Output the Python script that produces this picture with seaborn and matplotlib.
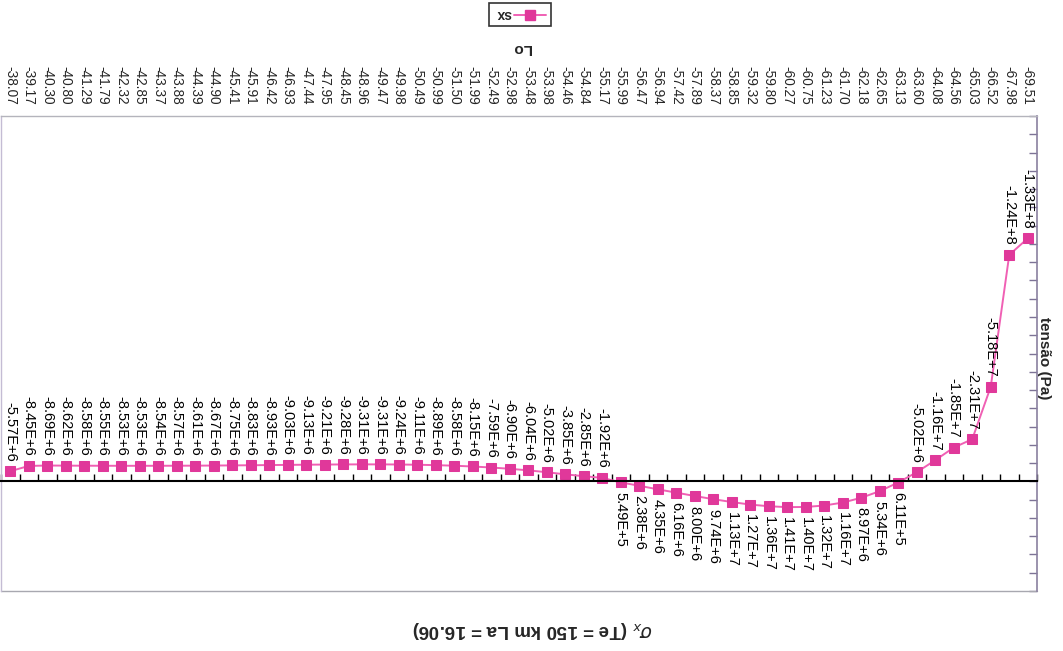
import matplotlib
matplotlib.use("Agg")
import matplotlib.pyplot as plt
from matplotlib.lines import Line2D
from matplotlib.patches import Rectangle
from matplotlib.ticker import MultipleLocator, FixedLocator, NullFormatter
import numpy as np
import pandas as pd
import seaborn as sns

# Longitude of each profile point (categorical x axis)
lon = [-69.51, -67.98, -66.52, -65.03, -64.56, -64.08, -63.60, -63.13, -62.65, -62.18,
       -61.70, -61.23, -60.75, -60.27, -59.80, -59.32, -58.85, -58.37, -57.89, -57.42,
       -56.94, -56.47, -55.99, -55.17, -54.84, -54.46, -53.98, -53.48, -52.98, -52.49,
       -51.99, -51.50, -50.99, -50.49, -49.98, -49.47, -48.96, -48.45, -47.95, -47.44,
       -46.93, -46.42, -45.91, -45.41, -44.90, -44.39, -43.88, -43.37, -42.85, -42.32,
       -41.79, -41.29, -40.80, -40.30, -39.17, -38.07]

# Horizontal stress sigma_x (Pa) at each longitude
sx = [-1.33e8, -1.24e8, -5.18e7, -2.31e7, -1.85e7, -1.16e7, -5.02e6, 6.11e5, 5.34e6, 8.97e6,
      1.16e7, 1.32e7, 1.40e7, 1.41e7, 1.36e7, 1.27e7, 1.13e7, 9.74e6, 8.00e6, 6.16e6,
      4.35e6, 2.38e6, 5.49e5, -1.92e6, -2.85e6, -3.85e6, -5.02e6, -6.04e6, -6.90e6, -7.59e6,
      -8.15e6, -8.58e6, -8.89e6, -9.11e6, -9.24e6, -9.31e6, -9.31e6, -9.28e6, -9.21e6, -9.13e6,
      -9.03e6, -8.93e6, -8.83e6, -8.75e6, -8.67e6, -8.61e6, -8.57e6, -8.54e6, -8.53e6, -8.53e6,
      -8.55e6, -8.58e6, -8.62e6, -8.69e6, -8.45e6, -5.57e6]

series_name = "sx"
title = r"$\sigma_x$ (Te = 150 km La = 16.06)"
x_label = "Lo"
y_label = "tensão (Pa)"

sns.set_style("white")
plt.rcParams["font.family"] = ["Liberation Sans", "DejaVu Sans"]

MARKER = "#E0389A"
LINE = "#F060B4"

df = pd.DataFrame({"pos": np.arange(len(lon)), "sx": sx})

W, H = 1063, 651
fig = plt.figure(figsize=(W / 100, H / 100), dpi=100)
ax = fig.add_axes([1 / W, (H - 591) / H, 1036 / W, 475 / H])

sns.lineplot(data=df, x="pos", y="sx", ax=ax, color=LINE, linewidth=1.4,
             marker="s", markersize=7, markerfacecolor=MARKER,
             markeredgecolor=MARKER, legend=False)

# Whole chart is shown turned upside down: both axes inverted, text rotated
ax.set_xlim(len(lon) - 0.5, -0.5)
ax.set_ylim(6e7, -2e8)


def fmt(v):
    m, e = f"{v:.2E}".split("E")
    return f"{m}E{int(e):+d}"


for i, v in enumerate(sx):
    up = v < 0
    ax.annotate(fmt(v), (i, v), xytext=(0, 7 if up else -7), textcoords="offset points",
                rotation=-90, ha="center", va="bottom" if up else "top",
                fontsize=10.5, color="black")

# x axis: category labels along the top, boundary ticks on the zero line
ax.spines["bottom"].set_position(("data", 0))
ax.spines["bottom"].set_color("black")
ax.spines["bottom"].set_linewidth(1.5)
ax.xaxis.set_major_locator(FixedLocator(np.arange(len(lon))))
ax.xaxis.set_minor_locator(FixedLocator(np.arange(len(lon) + 1) - 0.5))
ax.xaxis.set_ticklabels([f"{v:.2f}" for v in lon])
ax.xaxis.set_minor_formatter(NullFormatter())
ax.tick_params(axis="x", which="major", top=True, labeltop=True, bottom=False,
               labelbottom=False, length=0, pad=8, labelsize=9.8, labelrotation=-90)
ax.tick_params(axis="x", which="minor", bottom=True, top=False, direction="in",
               length=5, width=1, color="black")
for t in ax.get_xticklabels():
    t.set_va("bottom")

# y axis on the right with unlabeled ticks
ax.yaxis.set_major_locator(MultipleLocator(1e7))
ax.yaxis.set_ticks_position("right")
ax.tick_params(axis="y", which="major", right=True, left=False, labelright=False,
               labelleft=False, direction="in", length=6, width=1, color="#7d7396")

ax.spines["right"].set_color("#8a80a0")
ax.spines["right"].set_linewidth(1.2)
ax.spines["left"].set_color("#c4bcd4")
ax.spines["left"].set_linewidth(1.0)
ax.spines["top"].set_color("#b4b4bc")
ax.spines["top"].set_linewidth(1.0)
ax.add_line(Line2D([0, 1], [0, 0], transform=ax.transAxes, color="#a8a8b0",
                   linewidth=1.0, clip_on=False))

ax.set_xlabel(x_label, fontsize=11, fontweight="bold", rotation=180)
ax.xaxis.set_label_position("top")
ax.xaxis.set_label_coords(0.503, 1.135)
ax.set_ylabel(y_label, fontsize=11, fontweight="bold", rotation=-90, va="center")
ax.yaxis.set_label_position("right")
ax.yaxis.set_label_coords(1.0135, 0.49)

ax.set_title(title, fontsize=13.5, fontweight="bold", rotation=180, y=-0.095, va="center")
ax.title.set_position((0.513, -0.098))

# Legend box (upside down)
fig.add_artist(Rectangle((489 / W, 1 - 26 / H), 62 / W, 23 / H, transform=fig.transFigure,
                         facecolor="white", edgecolor="#333333", linewidth=1.2))
fig.text(504 / W, 1 - 14 / H, series_name, rotation=180, ha="center", va="center",
         fontsize=10, fontweight="bold")
fig.add_artist(Line2D([514 / W, 546 / W], [1 - 15 / H, 1 - 15 / H], transform=fig.transFigure,
                      color=LINE, linewidth=1.4))
fig.add_artist(Line2D([530 / W], [1 - 15 / H], transform=fig.transFigure, color=MARKER,
                      marker="s", markersize=7, linestyle="none"))

fig.savefig("out.png", dpi=100)
